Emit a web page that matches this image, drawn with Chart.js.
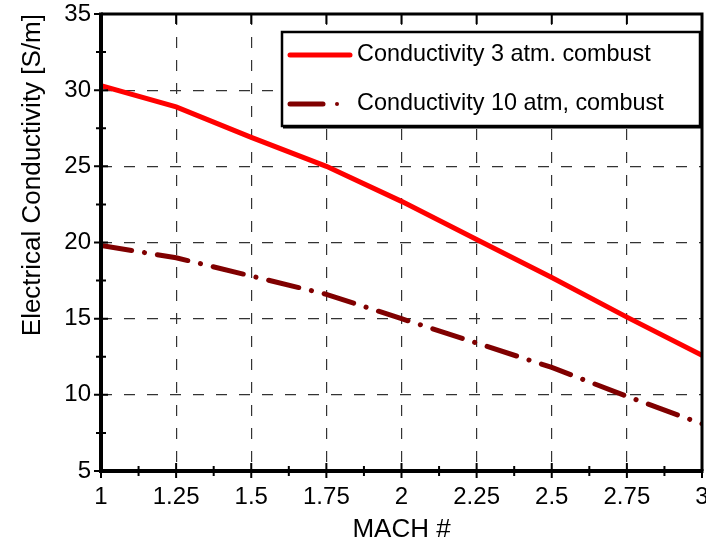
<!DOCTYPE html>
<html>
<head>
<meta charset="utf-8">
<script src="https://cdn.jsdelivr.net/npm/chart.js@4"></script>
<style>
  html, body { margin: 0; padding: 0; background: #fff; }
  #chart { display: block; }
</style>
</head>
<body>
<canvas id="chart" width="706" height="542"></canvas>
<script>
// data
const machValues = [1, 1.25, 1.5, 1.75, 2, 2.25, 2.5, 2.75, 3];
const cond3atm = [30.3, 28.9, 26.9, 25.0, 22.7, 20.2, 17.7, 15.1, 12.6];
const cond10atm = [19.8, 19.0, 17.8, 16.6, 15.0, 13.4, 11.8, 9.9, 8.1];
const seriesLabels = ['Conductivity 3 atm. combust', 'Conductivity 10 atm, combust'];
const xTicks = [1, 1.25, 1.5, 1.75, 2, 2.25, 2.5, 2.75, 3];
const yTicks = [5, 10, 15, 20, 25, 30, 35];

const FONT = 'Liberation Sans, Arial, sans-serif';

// frame, tick marks (major + minor) and the boxed legend
const decorations = {
  id: 'decorations',
  afterDatasetsDraw(chart) {
    const ctx = chart.ctx;
    const a = chart.chartArea;
    const xs = chart.scales.x, ys = chart.scales.y;
    ctx.save();
    ctx.strokeStyle = '#000';
    ctx.setLineDash([]);

    // top and right border
    ctx.lineWidth = 3;
    ctx.beginPath();
    ctx.moveTo(a.left, a.top);
    ctx.lineTo(a.right, a.top);
    ctx.lineTo(a.right, a.bottom);
    ctx.stroke();

    // left and bottom axis
    ctx.lineWidth = 4;
    ctx.beginPath();
    ctx.moveTo(a.left, a.top - 1.5);
    ctx.lineTo(a.left, a.bottom);
    ctx.lineTo(a.right + 1.5, a.bottom);
    ctx.stroke();

    // ticks
    ctx.lineWidth = 2;
    ctx.beginPath();
    for (let k = 0; k <= 16; k++) {
      const v = 1 + k * 0.125;
      const px = xs.getPixelForValue(v);
      const major = k % 2 === 0;
      const out = major ? 7 : 5, inn = major ? 8 : 5;
      ctx.moveTo(px, a.bottom + out);
      ctx.lineTo(px, a.bottom - inn);
      if (major && k > 0 && k < 16) {
        ctx.moveTo(px, a.top);
        ctx.lineTo(px, a.top + 10);
      }
    }
    for (let k = 0; k <= 12; k++) {
      const py = ys.getPixelForValue(5 + k * 2.5);
      const major = k % 2 === 0;
      const out = major ? 7 : 5, inn = major ? 7 : 5;
      ctx.moveTo(a.left - out, py);
      ctx.lineTo(a.left + inn, py);
    }
    ctx.stroke();

    // legend box
    const bx = 282, by = 32, bw = 418, bh = 94;
    ctx.fillStyle = '#fff';
    ctx.fillRect(bx, by, bw, bh);
    ctx.lineWidth = 2.5;
    ctx.strokeRect(bx, by, bw, bh);
    ctx.lineWidth = 2;
    ctx.beginPath();
    ctx.moveTo(bx + 1, by + bh + 1.5);
    ctx.lineTo(bx + bw + 1.5, by + bh + 1.5);
    ctx.lineTo(bx + bw + 1.5, by + 1);
    ctx.stroke();

    const items = chart.data.datasets;
    const rows = [55, 104];
    items.forEach((ds, i) => {
      const y = rows[i];
      ctx.strokeStyle = ds.borderColor;
      ctx.fillStyle = ds.borderColor;
      ctx.lineWidth = 5;
      ctx.lineCap = 'round';
      ctx.setLineDash([]);
      ctx.beginPath();
      ctx.moveTo(290, y);
      ctx.lineTo(i === 0 ? 350 : 323, y);
      ctx.stroke();
      if (i === 1) {
        ctx.beginPath();
        ctx.arc(337, y, 2, 0, Math.PI * 2);
        ctx.fill();
      }
      ctx.fillStyle = '#000';
      ctx.font = '23.4px ' + FONT;
      ctx.textBaseline = 'middle';
      ctx.textAlign = 'left';
      ctx.fillText(ds.label, 357, y);
    });
    ctx.restore();
  }
};

new Chart(document.getElementById('chart'), {
  type: 'line',
  data: {
    labels: machValues,
    datasets: [
      {
        label: seriesLabels[0],
        data: machValues.map((x, i) => ({ x: x, y: cond3atm[i] })),
        borderColor: '#ff0000',
        borderWidth: 5,
        pointRadius: 0,
        tension: 0,
        borderCapStyle: 'round'
      },
      {
        label: seriesLabels[1],
        data: machValues.map((x, i) => ({ x: x, y: cond10atm[i] })),
        borderColor: '#800000',
        borderWidth: 5,
        pointRadius: 0,
        tension: 0,
        borderCapStyle: 'round',
        borderDash: [31, 13, 0.1, 13]
      }
    ]
  },
  options: {
    responsive: false,
    animation: false,
    devicePixelRatio: 1,
    layout: { padding: { top: 14, right: 4, left: 0, bottom: 0 } },
    plugins: {
      legend: { display: false },
      tooltip: { enabled: false }
    },
    scales: {
      x: {
        type: 'linear',
        min: 1,
        max: 3,
        afterBuildTicks: s => { s.ticks = xTicks.map(v => ({ value: v })); },
        afterFit: s => { s.height = 71; s.paddingRight = 0; s.paddingLeft = 0; },
        ticks: {
          color: '#000',
          font: { family: FONT, size: 24 },
          padding: 12,
          maxRotation: 0,
          autoSkip: false,
          callback: v => String(v)
        },
        grid: {
          color: '#333',
          lineWidth: 1.2,
          drawTicks: false,
          tickLength: 0
        },
        border: { display: false, dash: [11, 12] },
        title: {
          display: true,
          text: 'MACH #',
          color: '#000',
          font: { family: FONT, size: 26 },
          padding: { top: 0, bottom: -3 }
        }
      },
      y: {
        type: 'linear',
        min: 5,
        max: 35,
        afterBuildTicks: s => { s.ticks = yTicks.map(v => ({ value: v })); },
        afterFit: s => { s.width = 101; s.paddingTop = 0; s.paddingBottom = 0; },
        ticks: {
          color: '#000',
          font: { family: FONT, size: 24 },
          padding: 10
        },
        grid: {
          color: '#333',
          lineWidth: 1.2,
          drawTicks: false,
          tickLength: 0
        },
        border: { display: false, dash: [11, 12] },
        title: {
          display: true,
          text: 'Electrical Conductivity [S/m]',
          align: 'end',
          color: '#000',
          font: { family: FONT, size: 26 },
          padding: { top: 17, bottom: 0 }
        }
      }
    }
  },
  plugins: [decorations]
});
</script>
</body>
</html>
